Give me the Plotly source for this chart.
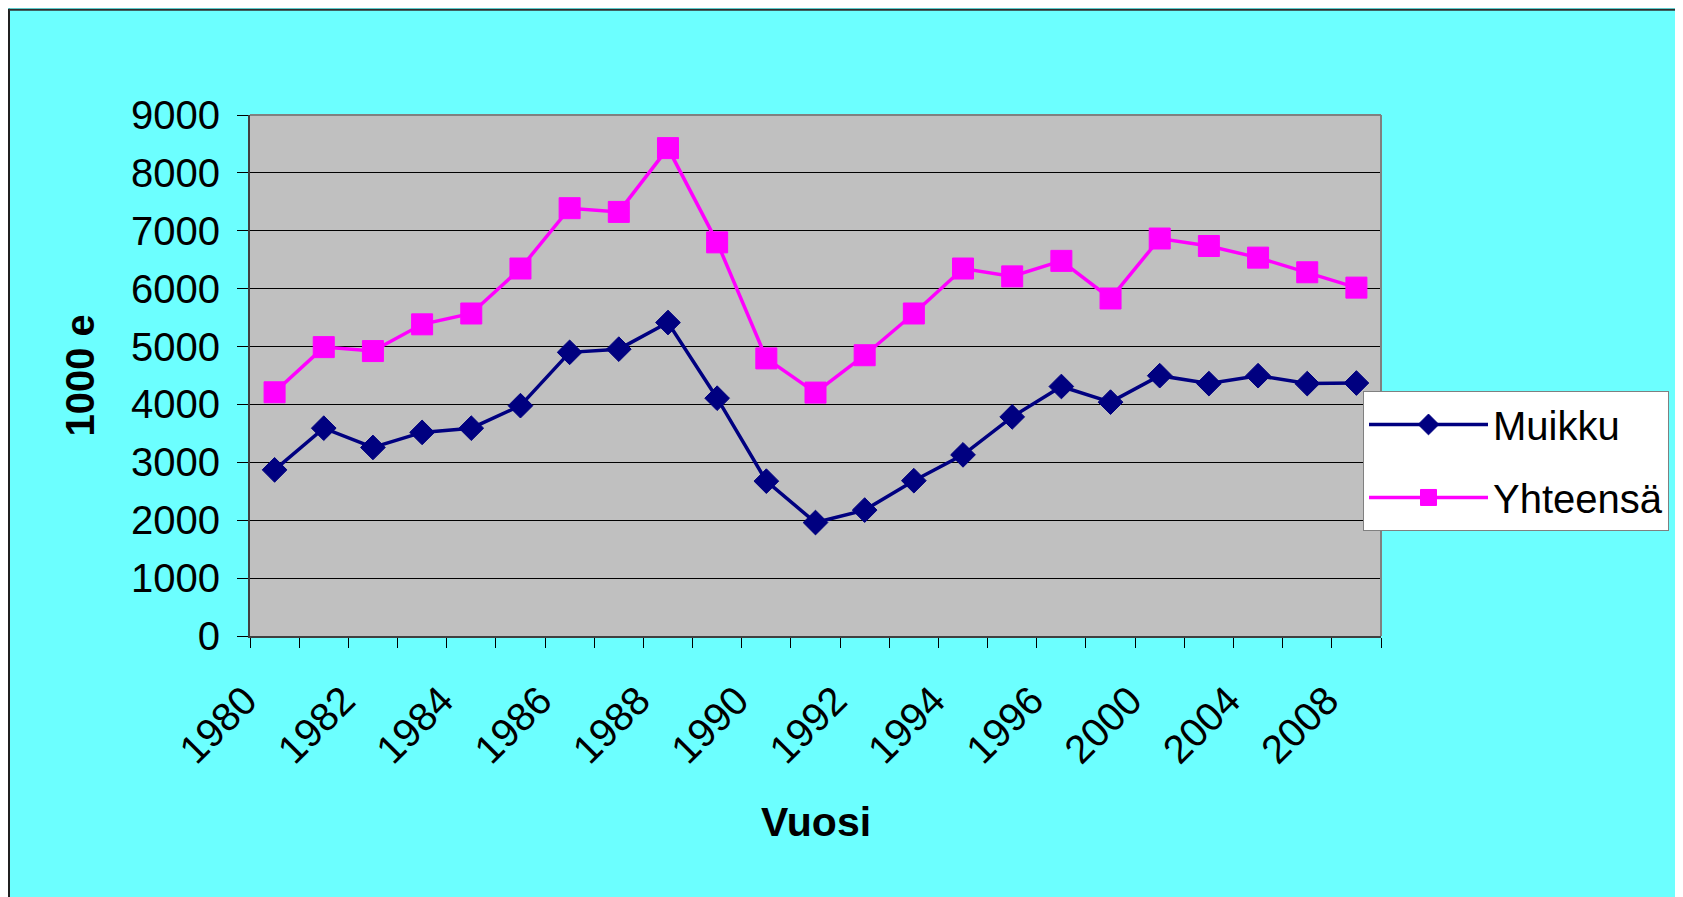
import plotly.graph_objects as go

# ---- data ----
years = ["1980", "1981", "1982", "1983", "1984", "1985", "1986", "1987", "1988",
         "1989", "1990", "1991", "1992", "1993", "1994", "1995", "1996", "1998",
         "2000", "2002", "2004", "2006", "2008"]
muikku = [2870, 3590, 3257, 3517, 3590, 3979, 4900, 4955, 5415, 4108, 2675, 1960,
          2175, 2683, 3129, 3785, 4310, 4040, 4497, 4360, 4497, 4360, 4370]
yhteensa = [4210, 4990, 4922, 5384, 5571, 6348, 7390, 7326, 8428, 6800, 4795, 4205,
            4850, 5571, 6348, 6212, 6480, 5830, 6866, 6737, 6536, 6283, 6018]
y_ticks = [0, 1000, 2000, 3000, 4000, 5000, 6000, 7000, 8000, 9000]

FONT = "Liberation Sans, Arial, sans-serif"
CYAN = "#6CFFFF"
idx = list(range(len(years)))
n = len(years)

# plot area geometry (figure px)
L, T, PW, PH = 242, 106.5, 1131, 522
W, H = 1683, 897

fig = go.Figure()
fig.add_trace(go.Scatter(
    x=idx, y=muikku, name="Muikku", mode="lines+markers", legendgroup="a",
    line=dict(color="#000080", width=3.5),
    marker=dict(symbol="diamond", size=19, color="#000080",
                line=dict(color="#000080", width=1)),
))
fig.add_trace(go.Scatter(
    x=idx, y=yhteensa, name="Yhteensä", mode="lines+markers", legendgroup="b",
    line=dict(color="#FF00FF", width=3.5),
    marker=dict(symbol="square", size=21, color="#FF00FF",
                line=dict(color="#FF00FF", width=1)),
))

# tick marks at category boundaries, labels on every other category
bounds = [i - 0.5 for i in range(n + 1)]
btext = [years[i] if (i < n and i % 2 == 0) else "" for i in range(n + 1)]

fig.update_layout(
    width=W, height=H,
    margin=dict(l=L, r=W - L - PW, t=T, b=H - T - PH, autoexpand=False),
    paper_bgcolor=CYAN, plot_bgcolor="#C0C0C0",
    font=dict(family=FONT, size=40, color="#000000"),
    showlegend=True,
    legend=dict(x=(1363 - 8 - L) / PW, y=(T + PH - (391 - 8)) / PH,
                xanchor="left", yanchor="top",
                bgcolor="#FFFFFF", bordercolor="#808080", borderwidth=1,
                font=dict(family=FONT, size=40, color="#000000"),
                traceorder="grouped", tracegroupgap=18, itemwidth=119),
    xaxis=dict(range=[-0.5, n - 0.5], tickmode="array",
               tickvals=bounds, ticktext=btext, tickangle=-45,
               ticks="outside", ticklen=10, tickwidth=1, tickcolor="#000000",
               ticklabelstandoff=13, ticklabelshift=-5,
               tickfont=dict(family=FONT, size=40, color="#000000"),
               showgrid=False, zeroline=False, showline=True,
               linecolor="#404040", linewidth=2, fixedrange=True),
    yaxis=dict(range=[0, 9000], tickmode="array", tickvals=y_ticks,
               ticks="outside", ticklen=11, tickwidth=1, tickcolor="#000000",
               ticklabelstandoff=9,
               showgrid=True, gridcolor="#000000", gridwidth=1,
               zeroline=False, showline=True, linecolor="#404040", linewidth=2,
               tickfont=dict(family=FONT, size=40, color="#000000"),
               fixedrange=True),
    annotations=[
        dict(text="<b>Vuosi</b>", xref="paper", yref="paper", x=0.5,
             y=(T + PH - 814.5) / PH,
             xanchor="center", yanchor="middle", showarrow=False,
             font=dict(family=FONT, size=41, color="#000000")),
        dict(text="<b>1000 e</b>", xref="paper", yref="paper", x=(71 - L) / PW,
             y=0.500, xanchor="center", yanchor="middle", showarrow=False,
             textangle=-90,
             font=dict(family=FONT, size=40, color="#000000")),
    ],
    shapes=[
        # plot-area border (top & right)
        dict(type="line", xref="paper", yref="paper", x0=0, x1=1, y0=1, y1=1,
             line=dict(color="#808080", width=2)),
        dict(type="line", xref="paper", yref="paper", x0=1, x1=1, y0=0, y1=1,
             line=dict(color="#808080", width=2)),
        # chart frame lines (left / top)
        dict(type="line", xref="paper", yref="paper",
             x0=(1 - L) / PW, x1=(1 - L) / PW, y0=-0.6, y1=(T + PH) / PH,
             line=dict(color="#202020", width=2)),
        dict(type="line", xref="paper", yref="paper",
             x0=(1 - L) / PW, x1=1.4, y0=(T + PH - 1) / PH, y1=(T + PH - 1) / PH,
             line=dict(color="#303030", width=2)),
    ],
)

fig.write_html("out.html")
